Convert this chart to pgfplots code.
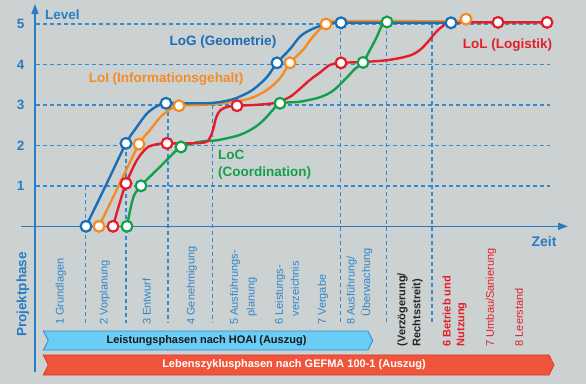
\documentclass[border=0pt]{standalone}
\usepackage{pgfplots}
\pgfplotsset{compat=1.18}
\usepackage{fontspec}
\setmainfont{Liberation Sans}
\usetikzlibrary{arrows.meta}
\definecolor{bg}{HTML}{CCD1D2}
\definecolor{axc}{HTML}{287DC3}
\definecolor{gridc}{HTML}{3489CF}
\definecolor{cblue}{HTML}{196EB4}
\definecolor{corange}{HTML}{F58C23}
\definecolor{cred}{HTML}{E41E28}
\definecolor{cgreen}{HTML}{14A04B}
\definecolor{banblue}{HTML}{69CDF5}
\definecolor{banbluebd}{HTML}{2F8BD0}
\definecolor{banred}{HTML}{F0553C}
\definecolor{banredbd}{HTML}{D93A2C}
\definecolor{phasec}{HTML}{2F86CC}
\pgfmathdeclarefunction{pyl}{1}{\pgfmathparse{(226.3-#1)/40.46}}
\tikzset{
  lab/.style={font=\fontsize{13.5}{16}\selectfont\bfseries, inner sep=0pt},
  phase/.style={font=\fontsize{11}{12}\selectfont, inner sep=0pt, rotate=90, anchor=west, text=phasec},
  grd/.style={gridc, line width=1.5pt, dash pattern=on 4pt off 3pt},
}
\begin{document}
\begin{tikzpicture}
\begin{axis}[width=586pt,height=384pt,scale only axis,
  xmin=0,xmax=586,ymin=-3.89768,ymax=5.59318,
  hide axis, clip=false]
% background
\fill[bg] (axis cs:0,-3.89768) rectangle (axis cs:586,5.59318);
% horizontal grid
\draw[grd] (axis cs:36,1) -- (axis cs:550,1);
\draw[grd] (axis cs:36,2) -- (axis cs:550,2);
\draw[grd] (axis cs:36,3) -- (axis cs:550,3);
\draw[grd] (axis cs:36,4) -- (axis cs:550,4);
\draw[grd] (axis cs:36,5) -- (axis cs:550,5);
% vertical grid
\draw[grd] (axis cs:85.5,1) -- (axis cs:85.5,{pyl(323)});
\draw[grd] (axis cs:126,2) -- (axis cs:126,{pyl(323)});
\draw[grd] (axis cs:168,3) -- (axis cs:168,{pyl(323)});
\draw[grd] (axis cs:212.5,3) -- (axis cs:212.5,{pyl(323)});
\draw[grd] (axis cs:340.5,5) -- (axis cs:340.5,{pyl(323)});
\draw[grd] (axis cs:386.5,5) -- (axis cs:386.5,{pyl(323)});
\draw[grd] (axis cs:432,5) -- (axis cs:432,{pyl(323)});
% axes
\draw[axc, line width=1.6pt, -{Triangle[length=10pt,width=7pt]}] (axis cs:35,{pyl(372)}) -- (axis cs:35,{pyl(4)});
\draw[axc, line width=1.6pt, -{Triangle[length=10pt,width=7pt]}] (axis cs:21,0) -- (axis cs:568,0);
% tick labels
\node[lab, text=axc] at (axis cs:20.7,5) {5};
\node[lab, text=axc] at (axis cs:20.7,4) {4};
\node[lab, text=axc] at (axis cs:20.7,3) {3};
\node[lab, text=axc] at (axis cs:20.7,2) {2};
\node[lab, text=axc] at (axis cs:20.7,1) {1};
\node[lab, text=axc, anchor=west] at (axis cs:45,{pyl(15)}) {Level};
\node[lab, text=axc, font=\fontsize{14}{16}\selectfont\bfseries] at (axis cs:544,{pyl(241)}) {Zeit};
\node[lab, text=axc, rotate=90] at (axis cs:23,{pyl(294.5)}) {Projektphase};
% curves
\addplot[cgreen, line width=2.4pt, smooth, tension=0.5, no markers] coordinates {
 (127,0) (130,0.38) (134,0.76) (141,1.0) (150,1.23) (160,1.47) (170,1.72) (181,1.96)
 (200,2.09) (218,2.13) (240,2.26) (255,2.45) (265,2.66) (273,2.88) (280,3.04)
 (300,3.08) (320,3.19) (333,3.35) (345,3.63) (355,3.89) (363,4.05)
 (370,4.36) (377,4.69) (382,4.97) (387,5.05)};
\addplot[cred, line width=2.4pt, smooth, tension=0.5, no markers] coordinates {
 (113,0) (119,0.52) (126,1.06) (137,1.64) (147,1.94) (157,2.03) (167,2.05)
 (185,2.05) (200,2.06) (208,2.11) (213,2.38) (216,2.68) (220,2.86) (227,2.95) (237,2.98)
 (255,3.0) (275,3.05) (290,3.2) (300,3.4) (310,3.62) (320,3.8) (330,3.99) (341,4.04)
 (363,4.06) (385,4.1) (400,4.16) (412,4.24) (420,4.36) (428,4.56) (436,4.8) (443,4.95)
 (451,5.03) (498,5.04) (547,5.04)};
\addplot[corange, line width=2.4pt, smooth, tension=0.5, no markers] coordinates {
 (99,0) (119,1.02) (139,2.03) (150,2.38) (160,2.69) (170,2.89) (179,2.98)
 (200,3.0) (225,3.05) (250,3.16) (267,3.37) (280,3.66) (290,4.04)
 (303,4.36) (313,4.69) (326,5.0) (340,5.07) (451,5.07) (466,5.12)};
\addplot[cblue, line width=2.4pt, smooth, tension=0.5, no markers] coordinates {
 (86,0) (106,1.02) (126,2.05) (137,2.46) (147,2.79) (157,2.97) (166,3.04)
 (190,3.04) (213,3.05) (233,3.14) (250,3.33) (260,3.52) (268,3.72) (277,4.04)
 (290,4.38) (300,4.69) (310,4.85) (320,4.95) (328,5.0) (341,5.03) (451,5.03)};
% markers
\addplot[only marks, mark=*, mark size=5.4pt, mark options={fill=white, draw=cgreen, line width=2.2pt}] coordinates {
 (127,0) (141,1.0) (181,1.96) (280,3.04) (363,4.05) (387,5.05)};
\addplot[only marks, mark=*, mark size=5.4pt, mark options={fill=white, draw=cred, line width=2.2pt}] coordinates {
 (113,0) (126,1.06) (167,2.05) (237,2.98) (341,4.04) (498,5.04) (547,5.04)};
\addplot[only marks, mark=*, mark size=5.4pt, mark options={fill=white, draw=corange, line width=2.2pt}] coordinates {
 (99,0) (139,2.03) (179,2.98) (290,4.04) (326,5.0) (466,5.12)};
\addplot[only marks, mark=*, mark size=5.4pt, mark options={fill=white, draw=cblue, line width=2.2pt}] coordinates {
 (86,0) (126,2.05) (166,3.04) (277,4.04) (341,5.03) (451,5.03)};
% curve labels
\node[lab, text=cblue] at (axis cs:223,{pyl(42)}) {LoG (Geometrie)};
\node[lab, text=corange] at (axis cs:166,{pyl(79)}) {LoI (Informationsgehalt)};
\node[lab, text=cgreen, anchor=west] at (axis cs:218,{pyl(155)}) {LoC};
\node[lab, text=cgreen, anchor=west] at (axis cs:218,{pyl(172.7)}) {(Coordination)};
\node[lab, text=cred] at (axis cs:507.5,{pyl(45)}) {LoL (Logistik)};
% phase labels
\node[phase] at (axis cs:60.8,{pyl(325)}) {1 Grundlagen};
\node[phase] at (axis cs:104.7,{pyl(325)}) {2 Vorplanung};
\node[phase] at (axis cs:146.7,{pyl(325)}) {3 Entwurf};
\node[phase] at (axis cs:191.7,{pyl(325)}) {4 Genehmigung};
\node[phase] at (axis cs:235,{pyl(325)}) {5 Ausführungs-};
\node[phase] at (axis cs:251.7,{pyl(316.5)}) {planung};
\node[phase] at (axis cs:280,{pyl(325)}) {6 Leistungs-};
\node[phase] at (axis cs:295,{pyl(316.5)}) {verzeichnis};
\node[phase] at (axis cs:323,{pyl(325)}) {7 Vergabe};
\node[phase] at (axis cs:351.7,{pyl(325)}) {8 Ausführung/};
\node[phase] at (axis cs:366.7,{pyl(316.5)}) {Überwachung};
\node[phase, text=black!85, font=\fontsize{11}{12}\selectfont\bfseries] at (axis cs:402.5,{pyl(346.5)}) {(Verzögerung/};
\node[phase, text=black!85, font=\fontsize{11}{12}\selectfont\bfseries] at (axis cs:417.5,{pyl(346.5)}) {Rechtsstreit)};
\node[phase, text=cred, font=\fontsize{11}{12}\selectfont\bfseries] at (axis cs:446.7,{pyl(346.5)}) {6 Betrieb und};
\node[phase, text=cred, font=\fontsize{11}{12}\selectfont\bfseries] at (axis cs:461.7,{pyl(346.5)}) {Nutzung};
\node[phase, text=cred] at (axis cs:491,{pyl(346.5)}) {7 Umbau/Sanierung};
\node[phase, text=cred] at (axis cs:519,{pyl(346.5)}) {8 Leerstand};
% banners
\filldraw[fill=banblue, draw=banbluebd, line width=0.8pt]
 (axis cs:43.3,{pyl(331)}) -- (axis cs:368,{pyl(331)}) -- (axis cs:372.7,{pyl(340.5)})
 -- (axis cs:368,{pyl(350)}) -- (axis cs:43.3,{pyl(350)}) -- (axis cs:48.3,{pyl(340.5)}) -- cycle;
\filldraw[fill=banred, draw=banredbd, line width=0.8pt]
 (axis cs:43.3,{pyl(355)}) -- (axis cs:549,{pyl(355)}) -- (axis cs:554,{pyl(365)})
 -- (axis cs:549,{pyl(375)}) -- (axis cs:43.3,{pyl(375)}) -- (axis cs:48.3,{pyl(365)}) -- cycle;
\node[inner sep=0pt, font=\fontsize{11}{13}\selectfont\bfseries, text=black!90] at (axis cs:206.5,{pyl(340.5)}) {Leistungsphasen nach HOAI (Auszug)};
\node[inner sep=0pt, font=\fontsize{11}{13}\selectfont\bfseries, text=white] at (axis cs:294,{pyl(365)}) {Lebenszyklusphasen nach GEFMA 100-1 (Auszug)};
\end{axis}
\end{tikzpicture}
\end{document}
